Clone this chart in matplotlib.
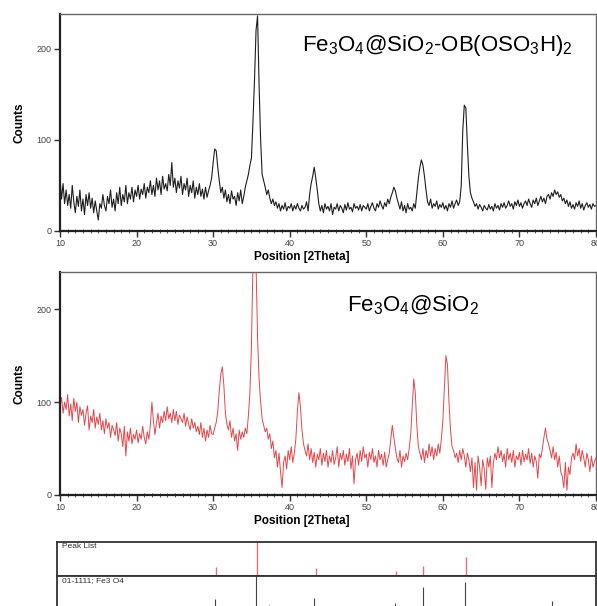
import numpy as np
import matplotlib
matplotlib.use("Agg")
from matplotlib import pyplot as plt
from matplotlib.ticker import MultipleLocator

plt.rcParams['font.family'] = ['Liberation Sans', 'DejaVu Sans']
plt.rcParams['mathtext.fontset'] = 'custom'
plt.rcParams['mathtext.rm'] = 'Liberation Sans'
plt.rcParams['mathtext.it'] = 'Liberation Sans'

# 2theta grid, 0.2 deg step
two_theta = np.round(np.arange(10.0, 80.01, 0.2), 1)

# Fe3O4@SiO2-OB(OSO3H)2 (black)
counts_top = [
    58, 35, 52, 30, 45,   # 10
    28, 40, 25, 50, 32,   # 11
    20, 38, 27, 45, 22,   # 12
    35, 18, 40, 28, 42,   # 13
    25, 36, 20, 33, 22,   # 14
    12, 30, 25, 40, 28,   # 15
    22, 38, 30, 45, 26,   # 16
    35, 22, 42, 30, 48,   # 17
    28, 40, 32, 50, 30,   # 18
    42, 35, 48, 32, 45,   # 19
    38, 50, 35, 46, 40,   # 20
    52, 36, 48, 42, 55,   # 21
    40, 50, 38, 58, 45,   # 22
    55, 40, 60, 46, 52,   # 23
    44, 62, 50, 75, 48,   # 24
    58, 42, 55, 47, 60,   # 25
    40, 52, 45, 58, 38,   # 26
    50, 42, 55, 36, 48,   # 27
    40, 52, 38, 46, 35,   # 28
    48, 37, 44, 50, 58,   # 29
    75, 90, 88, 70, 55,   # 30
    42, 48, 36, 45, 32,   # 31
    40, 30, 44, 35, 38,   # 32
    28, 42, 33, 45, 30,   # 33
    38, 48, 55, 62, 72,   # 34
    80, 120, 165, 220, 236,  # 35
    160, 100, 62, 55, 48,  # 36
    40, 45, 36, 30, 35,   # 37
    28, 32, 25, 30, 22,   # 38
    28, 24, 31, 22, 27,   # 39
    25, 30, 22, 28, 24,   # 40
    30, 25, 22, 28, 24,   # 41
    26, 32, 22, 40, 52,   # 42
    60, 70, 58, 45, 30,   # 43
    22, 28, 20, 30, 24,   # 44
    27, 22, 30, 18, 26,   # 45
    24, 30, 22, 28, 25,   # 46
    20, 29, 23, 31, 24,   # 47
    26, 21, 30, 25, 27,   # 48
    23, 29, 22, 28, 26,   # 49
    24, 30, 22, 27, 31,   # 50
    25, 22, 30, 26, 33,   # 51
    28, 24, 31, 27, 35,   # 52
    30, 37, 42, 48, 44,   # 53
    36, 30, 24, 32, 22,   # 54
    28, 20, 30, 24, 26,   # 55
    22, 30, 25, 42, 58,   # 56
    70, 78, 72, 60, 45,   # 57
    32, 28, 35, 25, 30,   # 58
    27, 33, 24, 29, 26,   # 59
    31, 24, 28, 22, 30,   # 60
    26, 33, 25, 30, 34,   # 61
    28, 32, 50, 110, 138,  # 62
    135, 95, 60, 42, 36,  # 63
    32, 27, 30, 24, 29,   # 64
    26, 22, 28, 25, 23,   # 65
    29, 24, 27, 22, 30,   # 66
    25, 28, 23, 30, 26,   # 67
    31, 25, 28, 33, 27,   # 68
    30, 24, 32, 28, 34,   # 69
    27, 31, 25, 30, 33,   # 70
    28, 35, 30, 26, 34,   # 71
    30, 36, 28, 33, 38,   # 72
    32, 36, 30, 38, 40,   # 73
    35, 42, 38, 45, 40,   # 74
    43, 37, 40, 33, 36,   # 75
    30, 34, 27, 32, 25,   # 76
    29, 24, 31, 27, 33,   # 77
    25, 30, 23, 28, 31,   # 78
    26, 29, 24, 30, 27,   # 79
    28,                   # 80
]

# Fe3O4@SiO2 (red)
counts_mid = [
    95, 105, 88, 100, 92,   # 10
    108, 85, 98, 80, 104,   # 11
    90, 100, 78, 95, 86,    # 12
    92, 75, 88, 96, 70,     # 13
    85, 78, 92, 72, 84,     # 14
    76, 88, 70, 80, 66,     # 15
    82, 72, 78, 62, 75,     # 16
    70, 64, 78, 58, 72,     # 17
    66, 52, 74, 42, 68,     # 18
    58, 72, 55, 65, 60,     # 19
    70, 56, 66, 60, 74,     # 20
    62, 55, 68, 60, 75,     # 21
    100, 80, 65, 78, 88,    # 22
    72, 85, 78, 90, 80,     # 23
    95, 82, 88, 78, 92,     # 24
    80, 90, 76, 86, 82,     # 25
    78, 88, 74, 84, 76,     # 26
    70, 82, 72, 78, 68,     # 27
    74, 65, 78, 62, 72,     # 28
    58, 70, 62, 75, 66,     # 29
    65, 72, 78, 90, 112,    # 30
    130, 138, 118, 88, 76,  # 31
    70, 80, 62, 72, 58,     # 32
    66, 48, 70, 60, 68,     # 33
    62, 72, 66, 85, 110,    # 34
    160, 250, 265, 250, 170,  # 35
    125, 100, 82, 75, 68,   # 36
    72, 60, 66, 50, 58,     # 37
    40, 48, 30, 45, 25,     # 38
    8, 35, 42, 28, 48,      # 39
    38, 52, 35, 45, 60,     # 40
    90, 110, 95, 70, 55,    # 41
    48, 42, 55, 38, 50,     # 42
    35, 46, 30, 44, 38,     # 43
    50, 32, 45, 36, 48,     # 44
    30, 42, 35, 48, 33,     # 45
    40, 52, 30, 45, 38,     # 46
    48, 32, 44, 36, 50,     # 47
    28, 42, 12, 38, 45,     # 48
    32, 48, 36, 52, 40,     # 49
    44, 30, 46, 38, 50,     # 50
    35, 42, 30, 48, 38,     # 51
    44, 32, 46, 30, 38,     # 52
    45, 60, 75, 62, 50,     # 53
    40, 35, 48, 30, 42,     # 54
    36, 45, 38, 50, 65,     # 55
    95, 125, 110, 75, 52,   # 56
    45, 38, 50, 35, 48,     # 57
    40, 55, 42, 52, 38,     # 58
    50, 42, 55, 45, 60,     # 59
    80, 115, 150, 140, 100,  # 60
    70, 52, 48, 40, 45,     # 61
    35, 48, 38, 50, 42,     # 62
    30, 45, 38, 25, 40,     # 63
    8, 35, 5, 42, 30,       # 64
    10, 38, 28, 6, 40,      # 65
    30, 42, 8, 35, 45,      # 66
    38, 52, 40, 48, 36,     # 67
    44, 30, 50, 38, 45,     # 68
    35, 48, 30, 42, 38,     # 69
    46, 32, 48, 36, 44,     # 70
    38, 50, 34, 45, 30,     # 71
    42, 36, 18, 44, 40,     # 72
    50, 62, 72, 60, 55,     # 73
    48, 40, 52, 38, 46,     # 74
    30, 42, 25, 20, 8,      # 75
    35, 5, 30, 22, 40,      # 76
    45, 38, 55, 42, 50,     # 77
    36, 48, 40, 30, 45,     # 78
    38, 25, 42, 30, 36,     # 79
    40,                     # 80
]

# peak list (measured) and reference card 01-1111 Fe3O4, relative heights
peak_pos = [30.26, 35.62, 43.37, 53.83, 57.32, 62.94]
peak_rel = [0.25, 1.0, 0.22, 0.15, 0.28, 0.56]
ref_pos = [30.17, 35.57, 37.27, 43.11, 53.7, 57.32, 62.89, 74.22]
ref_rel = [0.31, 1.0, 0.14, 0.35, 0.2, 0.68, 0.82, 0.26]

W, H = 597, 606
fig = plt.figure(figsize=(W / 100, H / 100), dpi=100)


def box(x0, y0, x1, y1):
    # pixel box (top-left origin) -> figure fraction
    return [x0 / W, 1 - y1 / H, (x1 - x0) / W, (y1 - y0) / H]


def style_xrd(ax, ymax):
    ax.set_xlim(10, 80)
    ax.set_ylim(0, ymax)
    ax.xaxis.set_major_locator(MultipleLocator(10))
    ax.xaxis.set_minor_locator(MultipleLocator(1))
    ax.yaxis.set_major_locator(MultipleLocator(100))
    ax.tick_params(axis='both', which='major', direction='out', length=4,
                   width=1, labelsize=6.5, labelcolor='#444', color='#333', pad=2)
    ax.tick_params(axis='x', which='minor', direction='inout', length=3,
                   width=0.7, color='#555')
    for s in ['left', 'bottom']:
        ax.spines[s].set_linewidth(1.6)
        ax.spines[s].set_color('#222')
    for s in ['top', 'right']:
        ax.spines[s].set_linewidth(1.0)
        ax.spines[s].set_color('#666')
    ax.set_ylabel('Counts', fontsize=8.5, fontweight='bold', labelpad=8)


ax1 = fig.add_axes(box(60, 14, 596, 231))
ax1.plot(two_theta, counts_top, color='#1e1e1e', lw=0.8)
style_xrd(ax1, 238)
fig.text(302 / W, 1 - 257 / H, 'Position [2Theta]', fontsize=8.5,
         fontweight='bold', ha='center', va='center')
fig.text(302 / W, 1 - 45 / H, r'Fe$_3$O$_4$@SiO$_2$-OB(OSO$_3$H)$_2$',
         fontsize=16, ha='left', va='center')

ax2 = fig.add_axes(box(60, 272, 596, 495))
ax2.plot(two_theta, counts_mid, color='#e8454a', lw=0.7)
style_xrd(ax2, 240)
fig.text(302 / W, 1 - 521 / H, 'Position [2Theta]', fontsize=8.5,
         fontweight='bold', ha='center', va='center')
fig.text(347 / W, 1 - 305 / H, r'Fe$_3$O$_4$@SiO$_2$',
         fontsize=16, ha='left', va='center')

# stick patterns
ax3 = fig.add_axes(box(57.3, 541.7, 595.7, 575.7))
ax3.vlines(peak_pos, 0, peak_rel, color='#e8707a', lw=1.0)
ax4 = fig.add_axes(box(57.3, 575.7, 595.7, 609.7))
ax4.vlines(ref_pos, 0, ref_rel, color='#444', lw=0.8)
for ax, label in [(ax3, 'Peak List'), (ax4, '01-1111; Fe3 O4')]:
    ax.set_xlim(9.56, 79.93)
    ax.set_ylim(0, 1)
    ax.set_xticks([])
    ax.set_yticks([])
    for s in ax.spines.values():
        s.set_linewidth(1.3)
        s.set_color('#333')
    ax.text(0.008, 0.97, label, transform=ax.transAxes, fontsize=6,
            color='#333', ha='left', va='top')

fig.savefig('out.png', dpi=100)
